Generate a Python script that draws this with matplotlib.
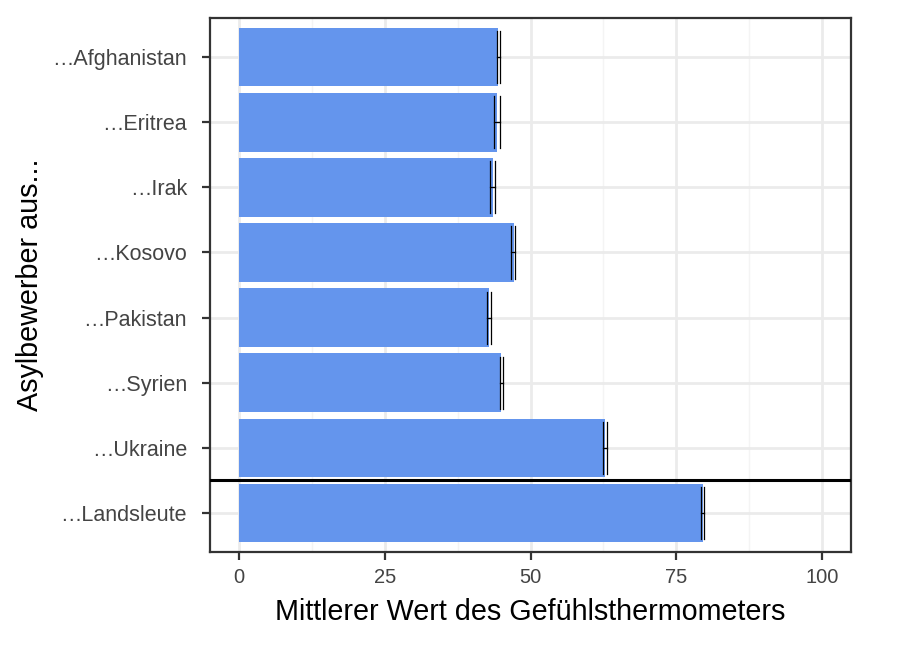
import numpy as np
import matplotlib.pyplot as plt

plt.rcParams['font.family'] = ['Liberation Sans', 'DejaVu Sans']

gruppen = ['…Afghanistan', '…Eritrea', '…Irak', '…Kosovo', '…Pakistan',
           '…Syrien', '…Ukraine', '…Landsleute']
mittel = [44.5, 44.3, 43.5, 47.1, 42.9, 45.0, 62.7, 79.6]
ki_unten = [44.2, 43.8, 43.1, 46.6, 42.5, 44.7, 62.4, 79.2]
ki_oben = [44.8, 44.7, 43.9, 47.4, 43.3, 45.3, 63.2, 79.8]

n = len(gruppen)
y = np.arange(n)[::-1] + 1  # oberste Gruppe oben

fig = plt.figure(figsize=(9, 6.46), dpi=100)
ax = fig.add_axes([0.2333, 0.1455, 0.7123, 0.8266])

# Gitter wie theme_bw
for xv in [12.5, 37.5, 62.5, 87.5]:
    ax.axvline(xv, color='#f4f4f4', lw=1, zorder=0)
for xv in [0, 25, 50, 75, 100]:
    ax.axvline(xv, color='#ebebeb', lw=2, zorder=0)
for yv in y:
    ax.axhline(yv, color='#ebebeb', lw=2, zorder=0)

ax.barh(y, mittel, height=0.9, color='#6495ED', zorder=2)

for yi, lo, hi in zip(y, ki_unten, ki_oben):
    ax.plot([lo, hi], [yi, yi], color='black', lw=0.9, zorder=3)
    ax.plot([lo, lo], [yi - 0.4, yi + 0.4], color='black', lw=0.9, zorder=3)
    ax.plot([hi, hi], [yi - 0.4, yi + 0.4], color='black', lw=0.9, zorder=3)

# Trennlinie zwischen Landsleuten und Asylbewerbern
ax.axhline(1.5, color='black', lw=2.2, zorder=4)

ax.set_xlim(-5, 105)
ax.set_ylim(0.4, n + 0.6)
ax.set_xticks([0, 25, 50, 75, 100])
ax.set_yticks(y)
ax.set_yticklabels(gruppen)
ax.tick_params(axis='both', colors='#333333', labelcolor='#444444',
               labelsize=14.5, length=5.5, width=1.6)
ax.tick_params(axis='y', labelsize=15.5, pad=11)
ax.tick_params(axis='x', pad=6)
for s in ax.spines.values():
    s.set_color('#333333')
    s.set_linewidth(1.6)

ax.set_xlabel('Mittlerer Wert des Gefühlsthermometers', fontsize=20.7, labelpad=8)
ax.set_ylabel('Asylbewerber aus...', fontsize=20.7, labelpad=6)

fig.savefig('out.png', dpi=100)
